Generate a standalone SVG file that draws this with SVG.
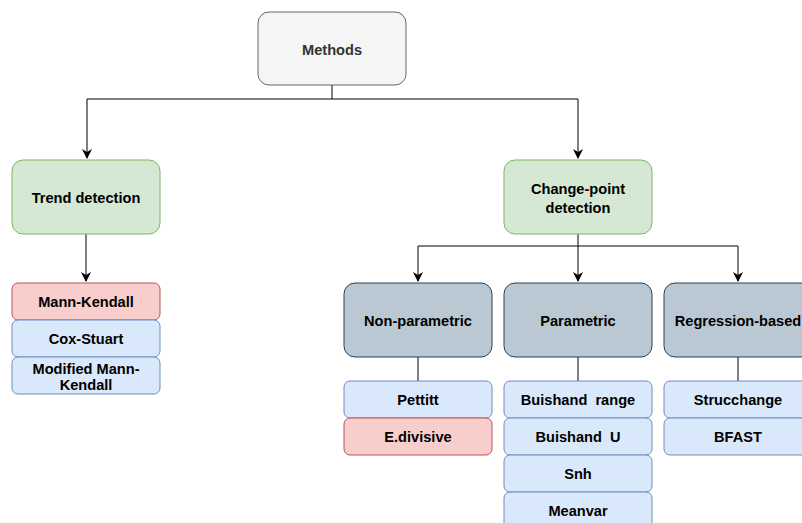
<svg xmlns="http://www.w3.org/2000/svg" width="802" height="523" viewBox="0 0 802 523">
<defs>
<marker id="arr" viewBox="0 0 10 10" refX="9" refY="5" markerWidth="10" markerHeight="10" markerUnits="userSpaceOnUse" orient="auto">
<path d="M0,0 L10,5 L0,10 L3,5 Z" fill="#000"/>
</marker>
<style>
text{font-family:"Liberation Sans",Arial,sans-serif;font-size:14.6px;font-weight:bold;fill:#000;text-anchor:middle;white-space:pre}
.root rect{fill:#f5f5f5;stroke:#666666}
.green rect{fill:#d5e8d4;stroke:#82b366}
.red rect{fill:#f8cecc;stroke:#b85450}
.blue rect{fill:#dae8fc;stroke:#6c8ebf}
.grey rect{fill:#bac8d3;stroke:#23445d}
rect{stroke-width:1}
.edges path{fill:none;stroke:#000;stroke-width:1}
</style>
</defs>
<rect width="802" height="523" fill="#fff"/>
<g class="edges">
<path d="M332,85 V99 H87 V158" marker-end="url(#arr)"/>
<path d="M332,99 H578 V158" marker-end="url(#arr)"/>
<path d="M86,234 V281" marker-end="url(#arr)"/>
<path d="M578,234 V246 H418 V281" marker-end="url(#arr)"/>
<path d="M578,246 V281" marker-end="url(#arr)"/>
<path d="M578,246 H738 V281" marker-end="url(#arr)"/>
<path d="M418,357 V381" stroke="#333"/>
<path d="M578,357 V381" stroke="#333"/>
<path d="M738,357 V381" stroke="#333"/>
</g>
<g id="methods" class="root"><rect x="258" y="12" width="148" height="73" rx="11"/><text x="332" y="55" style="fill:#333">Methods</text></g>
<g id="trend" class="green"><rect x="12" y="160" width="148" height="74" rx="11"/><text x="86" y="203">Trend detection</text></g>
<g id="changepoint" class="green"><rect x="504" y="160" width="148" height="74" rx="11"/><text x="578" y="194">Change-point</text><text x="578" y="213">detection</text></g>
<g id="mannkendall" class="red"><rect x="12" y="283" width="148" height="37" rx="6"/><text x="86" y="307">Mann-Kendall</text></g>
<g id="coxstuart" class="blue"><rect x="12" y="320" width="148" height="37" rx="6"/><text x="86" y="344">Cox-Stuart</text></g>
<g id="modmk" class="blue"><rect x="12" y="357" width="148" height="37" rx="6"/><text x="86" y="374">Modified Mann-</text><text x="86" y="390">Kendall</text></g>
<g id="nonparam" class="grey"><rect x="344" y="283" width="148" height="74" rx="11"/><text x="418" y="326">Non-parametric</text></g>
<g id="param" class="grey"><rect x="504" y="283" width="148" height="74" rx="11"/><text x="578" y="326">Parametric</text></g>
<g id="regression" class="grey"><rect x="664" y="283" width="148" height="74" rx="11"/><text x="738" y="326">Regression-based</text></g>
<g id="pettitt" class="blue"><rect x="344" y="381" width="148" height="37" rx="6"/><text x="418" y="405">Pettitt</text></g>
<g id="edivisive" class="red"><rect x="344" y="418" width="148" height="37" rx="6"/><text x="418" y="442">E.divisive</text></g>
<g id="buishandrange" class="blue"><rect x="504" y="381" width="148" height="37" rx="6"/><text x="578" y="405">Buishand  range</text></g>
<g id="buishandu" class="blue"><rect x="504" y="418" width="148" height="37" rx="6"/><text x="578" y="442">Buishand  U</text></g>
<g id="snh" class="blue"><rect x="504" y="455" width="148" height="37" rx="6"/><text x="578" y="479">Snh</text></g>
<g id="meanvar" class="blue"><rect x="504" y="492" width="148" height="37" rx="6"/><text x="578" y="516">Meanvar</text></g>
<g id="strucchange" class="blue"><rect x="664" y="381" width="148" height="37" rx="6"/><text x="738" y="405">Strucchange</text></g>
<g id="bfast" class="blue"><rect x="664" y="418" width="148" height="37" rx="6"/><text x="738" y="442">BFAST</text></g>
</svg>
